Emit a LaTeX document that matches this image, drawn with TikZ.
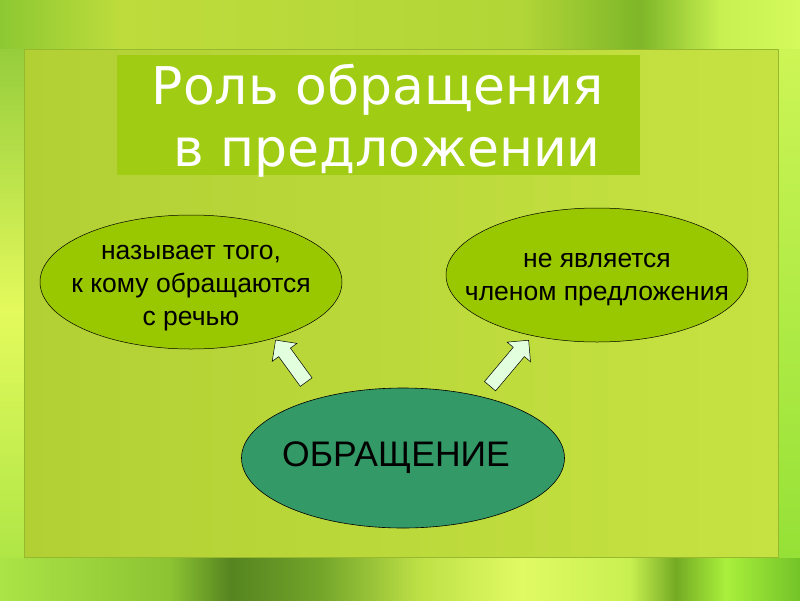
\documentclass[tikz,border=0pt]{standalone}
\usepackage{fontspec}
\setmainfont{Liberation Sans}
\newfontfamily\titlefont{DejaVu Sans}
\usetikzlibrary{shapes.geometric,shapes.arrows}
\definecolor{panelL}{RGB}{178,208,52}
\definecolor{panelR}{RGB}{198,226,66}
\definecolor{panelborder}{RGB}{150,185,45}
\definecolor{titlebg}{RGB}{160,204,20}
\definecolor{ovalgreen}{RGB}{153,199,0}
\definecolor{darkoval}{RGB}{51,153,102}
\definecolor{arrowfill}{RGB}{226,255,222}
\definecolor{tA}{RGB}{140,200,50}
\definecolor{tB}{RGB}{190,220,60}
\definecolor{tC}{RGB}{178,214,55}
\definecolor{tD}{RGB}{125,182,40}
\definecolor{tE}{RGB}{200,240,80}
\definecolor{tF}{RGB}{212,250,92}
\definecolor{bA}{RGB}{170,228,70}
\definecolor{bB}{RGB}{140,195,50}
\definecolor{bC}{RGB}{85,132,32}
\definecolor{bD}{RGB}{115,165,42}
\definecolor{bE}{RGB}{190,225,70}
\definecolor{bF}{RGB}{225,250,100}
\definecolor{bG}{RGB}{200,240,80}
\definecolor{bH}{RGB}{115,170,35}
\definecolor{bI}{RGB}{170,240,60}
\definecolor{bJ}{RGB}{115,195,40}
\definecolor{lA}{RGB}{150,205,60}
\definecolor{lB}{RGB}{228,250,92}
\definecolor{lC}{RGB}{175,230,70}
\definecolor{rA}{RGB}{205,245,85}
\definecolor{rB}{RGB}{150,225,55}
\tikzset{
  oval/.style={ellipse, draw=black, line width=0.5pt, fill=ovalgreen, inner sep=0pt,
    minimum width=302pt, minimum height=134pt},
  ovaltext/.style={align=center, inner sep=0pt, font=\fontsize{26.5}{33}\selectfont},
  bigoval/.style={ellipse, draw=black, line width=0.6pt, fill=darkoval, inner sep=0pt,
    minimum width=323pt, minimum height=140pt},
  bigtext/.style={inner sep=0pt, font=\fontsize{35.5}{40}\selectfont},
  blockarrow/.style={single arrow, draw=black, line width=0.5pt, fill=arrowfill,
    inner xsep=0pt, inner ysep=7pt, minimum width=30pt, single arrow head extend=8pt},
}
\begin{document}
\begin{tikzpicture}[x=1pt,y=-1pt]
\useasboundingbox (0,0) rectangle (800,600);
% background: top strip
\shade[left color=tA, right color=tB] (0,0) rectangle (120,50);
\shade[left color=tB, right color=tC] (119,0) rectangle (521,50);
\shade[left color=tC, right color=tD] (520,0) rectangle (641,50);
\shade[left color=tD, right color=tE] (640,0) rectangle (721,50);
\shade[left color=tE, right color=tF] (720,0) rectangle (800,50);
% bottom strip
\shade[left color=bA, right color=bB] (0,556) rectangle (171,600);
\shade[left color=bB, right color=bC] (170,556) rectangle (231,600);
\shade[left color=bC, right color=bD] (230,556) rectangle (321,600);
\shade[left color=bD, right color=bE] (320,556) rectangle (421,600);
\shade[left color=bE, right color=bF] (420,556) rectangle (521,600);
\shade[left color=bF, right color=bG] (520,556) rectangle (631,600);
\shade[left color=bG, right color=bH] (630,556) rectangle (676,600);
\shade[left color=bH, right color=bI] (675,556) rectangle (726,600);
\shade[left color=bI, right color=bJ] (725,556) rectangle (800,600);
% side strips
\shade[top color=lA, bottom color=lB] (0,49) rectangle (25,311);
\shade[top color=lB, bottom color=lC] (0,310) rectangle (25,557);
\shade[top color=rA, bottom color=rB] (777,49) rectangle (800,557);
% main panel
\shade[left color=panelL, right color=panelR] (24,49) rectangle (778,557);
\draw[panelborder, line width=0.8pt] (24,49) rectangle (778,557);
% title
\fill[titlebg] (117,55) rectangle (640,175);
\node (title) at (378,121) [align=center, text=white, font=\titlefont\fontsize{52}{62}\selectfont]
  {Роль обращения\\ \hspace*{18pt}в предложении};
% ovals
\node[oval] (left) at (191,282) {};
\node[ovaltext] (lefttext) at ([yshift=-6pt]left.center) {называет того,\\ к кому обращаются\\ с речью};
\node[oval] (right) at (597,275) {};
\node[ovaltext] (righttext) at ([yshift=-5pt]right.center) {не является\\ членом предложения};
\node[bigoval] (main) at (403,458) {};
\node[bigtext] (maintext) at ([xshift=-7pt]main.center) {ОБРАЩЕНИЕ};
% arrows
\node[blockarrow, minimum height=52pt, rotate=126] (arrL) at (293,364) {};
\node[blockarrow, minimum height=60pt, rotate=50] (arrR) at (507,366) {};
\end{tikzpicture}
\end{document}
